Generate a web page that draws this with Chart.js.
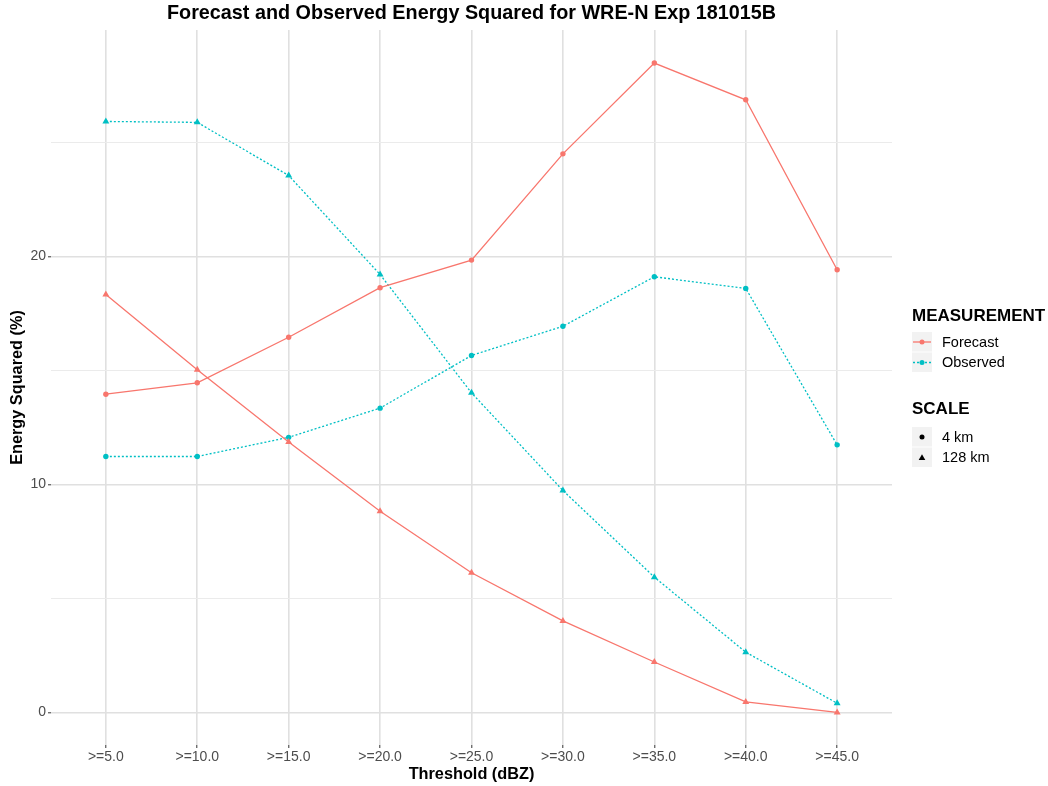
<!DOCTYPE html>
<html><head><meta charset="utf-8">
<script src="https://cdn.jsdelivr.net/npm/chart.js@4.4.1/dist/chart.umd.min.js"></script>
<style>html,body{margin:0;padding:0;background:#fff}#wrap{width:1048px;height:786px;position:relative}</style>
</head><body><div id="wrap"><canvas id="c" width="1048" height="786"></canvas></div>
<script>
const categories = ['>=5.0','>=10.0','>=15.0','>=20.0','>=25.0','>=30.0','>=35.0','>=40.0','>=45.0'];
const forecast4km   = [13.96, 14.46, 16.46, 18.63, 19.84, 24.50, 28.48, 26.87, 19.42];
const forecast128km = [18.33, 15.03, 11.87, 8.83, 6.13, 4.02, 2.22, 0.47, 0.01];
const observed4km   = [11.23, 11.23, 12.07, 13.35, 15.66, 16.94, 19.11, 18.60, 11.74];
const observed128km = [25.92, 25.88, 23.55, 19.21, 14.02, 9.74, 5.94, 2.65, 0.41];
const yTicks = [0, 5, 10, 15, 20, 25];
const yLabelTicks = [0, 10, 20];
const titleText = 'Forecast and Observed Energy Squared for WRE-N Exp 181015B';
const xTitle = 'Threshold (dBZ)';
const yTitle = 'Energy Squared (%)';
const measureTitle = 'MEASUREMENT';
const measureItems = ['Forecast', 'Observed'];
const scaleTitle = 'SCALE';
const scaleItems = ['4 km', '128 km'];

const FONT = '"Liberation Sans", Arial, sans-serif';
const RED = '#F8766D', TEAL = '#00BFC4';
const DOT = [2, 2];
function pts(arr){ return arr.map((v,i)=>({x:i+1, y:v})); }

function ds(label, data, color, dashed, shape){
  return {
    label, data: pts(data), borderColor: color, backgroundColor: color,
    borderWidth: 1.3, borderDash: dashed ? DOT : [],
    pointStyle: shape, pointRadius: shape === 'triangle' ? 4 : 2.7,
    pointBorderWidth: 0, pointHoverRadius: 3, tension: 0, fill: false
  };
}

const legendPlugin = {
  id: 'ggLegend',
  afterDraw(chart){
    const ctx = chart.ctx;
    ctx.save();
    ctx.textBaseline = 'middle'; ctx.textAlign = 'left';
    ctx.fillStyle = '#000';
    ctx.font = 'bold 17px ' + FONT;
    ctx.fillText(measureTitle, 912, 316);
    ctx.fillText(scaleTitle, 912, 409);
    const boxX = 912, boxW = 20;
    const mColors = [RED, TEAL], mDash = [[], DOT];
    measureItems.forEach((name, i) => {
      const y0 = 332 + i * 20.5, cy = y0 + 10;
      ctx.fillStyle = '#F2F2F2'; ctx.fillRect(boxX, y0, boxW, 19.5);
      ctx.strokeStyle = mColors[i]; ctx.lineWidth = 1.3; ctx.setLineDash(mDash[i]);
      ctx.beginPath(); ctx.moveTo(boxX + 1, cy); ctx.lineTo(boxX + boxW - 1, cy); ctx.stroke();
      ctx.setLineDash([]);
      ctx.fillStyle = mColors[i]; ctx.beginPath(); ctx.arc(boxX + 10, cy, 2.5, 0, Math.PI*2); ctx.fill();
      ctx.fillStyle = '#000'; ctx.font = '14.5px ' + FONT;
      ctx.fillText(name, 942, cy + 0.5);
    });
    scaleItems.forEach((name, i) => {
      const y0 = 427 + i * 20.5, cy = y0 + 10;
      ctx.fillStyle = '#F2F2F2'; ctx.fillRect(boxX, y0, boxW, 19.5);
      ctx.fillStyle = '#000';
      if (i === 0) { ctx.beginPath(); ctx.arc(boxX + 10, cy, 2.5, 0, Math.PI*2); ctx.fill(); }
      else { ctx.beginPath(); ctx.moveTo(boxX + 10, cy - 3.2); ctx.lineTo(boxX + 13.3, cy + 2.5); ctx.lineTo(boxX + 6.7, cy + 2.5); ctx.closePath(); ctx.fill(); }
      ctx.font = '14.5px ' + FONT;
      ctx.fillText(name, 942, cy + 0.5);
    });
    ctx.restore();
  }
};

new Chart(document.getElementById('c'), {
  type: 'line',
  data: {
    datasets: [
      ds('Forecast 4 km', forecast4km, RED, false, 'circle'),
      ds('Forecast 128 km', forecast128km, RED, false, 'triangle'),
      ds('Observed 4 km', observed4km, TEAL, true, 'circle'),
      ds('Observed 128 km', observed128km, TEAL, true, 'triangle')
    ]
  },
  options: {
    responsive: false, animation: false, devicePixelRatio: 1,
    layout: { padding: { left: 0, right: 156, top: 0, bottom: 0 } },
    plugins: {
      legend: { display: false }, tooltip: { enabled: false },
      title: { display: true, text: titleText, fullSize: false, color: '#000',
        font: { family: FONT, size: 19.8, weight: 'bold' }, padding: { top: 2, bottom: 4.24 } }
    },
    scales: {
      x: {
        type: 'linear', min: 0.4, max: 9.6,
        afterBuildTicks: s => { s.ticks = categories.map((c, i) => ({ value: i + 1 })); },
        afterFit: s => { s.height = 41; },
        ticks: { callback: (v) => categories[Math.round(v) - 1] || '', color: '#4D4D4D',
          font: { family: FONT, size: 14 }, padding: 1, maxRotation: 0, autoSkip: false },
        grid: { color: '#E0E0E0', lineWidth: 1.6, drawTicks: true, tickLength: 3, tickColor: '#333333', tickWidth: 1 },
        border: { display: false },
        title: { display: true, text: xTitle, color: '#000', font: { family: FONT, size: 16.3, weight: 'bold' }, padding: { top: 0, bottom: 2 } }
      },
      y: {
        type: 'linear', min: -1.42, max: 29.93,
        afterBuildTicks: s => { s.ticks = yTicks.map(v => ({ value: v })); },
        afterFit: s => { s.width = 51; },
        ticks: { callback: (v) => yLabelTicks.includes(v) ? String(v) : '', color: '#4D4D4D',
          font: { family: FONT, size: 14 }, padding: 2 },
        grid: {
          color: c => (c.tick && c.tick.value % 10 === 0) ? '#E0E0E0' : '#EBEBEB',
          lineWidth: c => (c.tick && c.tick.value % 10 === 0) ? 1.6 : 1,
          drawTicks: true, tickLength: 3,
          tickColor: c => (c.tick && c.tick.value % 10 === 0) ? '#333333' : 'rgba(0,0,0,0)', tickWidth: 1
        },
        border: { display: false },
        title: { display: true, text: yTitle, color: '#000', font: { family: FONT, size: 16.3, weight: 'bold' }, padding: { top: 8, bottom: 0 } }
      }
    }
  },
  plugins: [legendPlugin]
});
</script>
</body></html>
